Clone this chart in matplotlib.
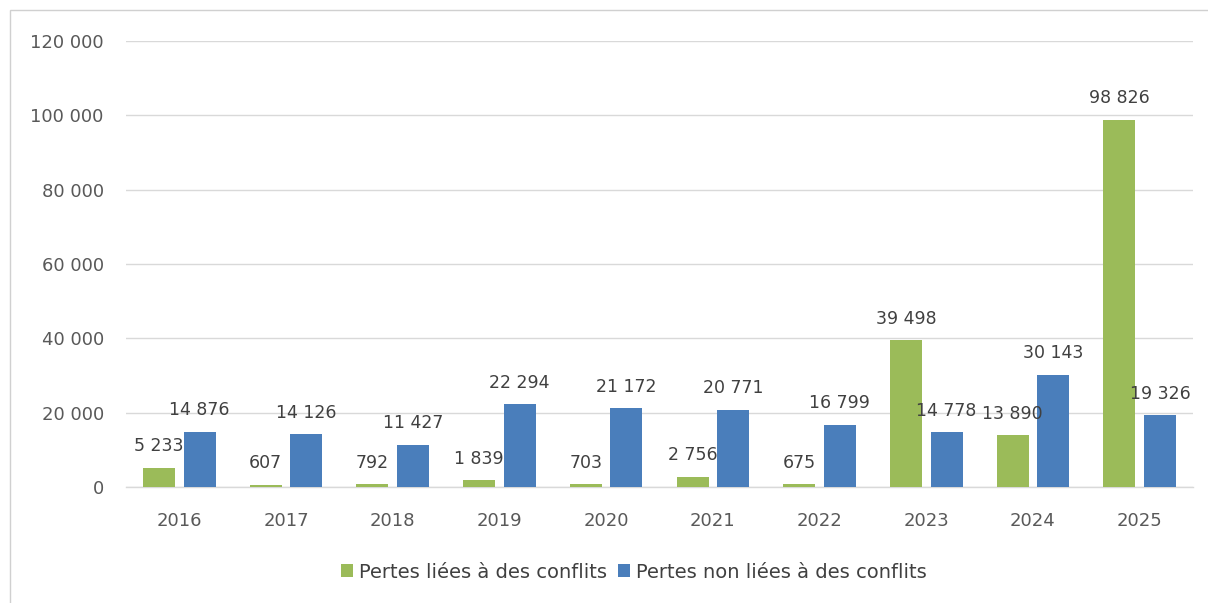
import matplotlib
matplotlib.use("Agg")
import matplotlib.pyplot as plt
from matplotlib.patches import Rectangle
import numpy as np

years = ["2016", "2017", "2018", "2019", "2020", "2021", "2022", "2023", "2024", "2025"]
conflict = [5233, 607, 792, 1839, 703, 2756, 675, 39498, 13890, 98826]
non_conflict = [14876, 14126, 11427, 22294, 21172, 20771, 16799, 14778, 30143, 19326]
yticks = [0, 20000, 40000, 60000, 80000, 100000, 120000]
series_names = ["Pertes liées à des conflits", "Pertes non liées à des conflits"]

GREEN = "#9BBB59"
BLUE = "#4A7EBB"
TICK_TEXT = "#595959"
LABEL_TEXT = "#404040"
GRID = "#D9D9D9"

plt.rcParams["font.family"] = ["DejaVu Sans"]

W, H = 1208, 603
fig = plt.figure(figsize=(W / 100, H / 100), dpi=100)
# light frame around the chart area
fig.patches.append(Rectangle((10 / W, -0.1), 1.2, 1 - 10 / H + 0.1,
                             transform=fig.transFigure, fill=False,
                             edgecolor="#D0D0D0", linewidth=1.0))

ax = fig.add_axes([126 / W, (H - 487) / H, (1193 - 126) / W, 446 / H])


def fmt(v):
    return f"{v:,}".replace(",", " ")


x = np.arange(len(years))
bw = 0.30
off = 0.19
b1 = ax.bar(x - off, conflict, bw, color=GREEN, label=series_names[0], zorder=3)
b2 = ax.bar(x + off, non_conflict, bw, color=BLUE, label=series_names[1], zorder=3)

for bars, vals in ((b1, conflict), (b2, non_conflict)):
    for r, v in zip(bars, vals):
        ax.annotate(fmt(v), (r.get_x() + r.get_width() / 2, v),
                    xytext=(0, 9), textcoords="offset points",
                    ha="center", va="bottom", fontsize=12.5, color=LABEL_TEXT,
                    zorder=4)

ax.set_xlim(-0.5, len(years) - 0.5)
ax.set_ylim(0, 120000)
ax.set_yticks(yticks)
ax.set_yticklabels([fmt(v) for v in yticks])
ax.set_xticks(x)
ax.set_xticklabels(years)
ax.tick_params(axis="both", length=0, labelsize=13, labelcolor=TICK_TEXT)
ax.tick_params(axis="y", pad=16)
ax.tick_params(axis="x", pad=18)
ax.grid(axis="y", color=GRID, linewidth=1.0, zorder=0)
for s in ("top", "right", "left"):
    ax.spines[s].set_visible(False)
ax.spines["bottom"].set_color(GRID)
ax.spines["bottom"].set_linewidth(1.0)

leg = ax.legend(loc="center", ncol=2, frameon=False,
                fontsize=14, labelcolor=LABEL_TEXT, handlelength=0.6, handleheight=0.6,
                handletextpad=0.3, columnspacing=0.6)
leg.set_bbox_to_anchor((634 / W, (H - 572) / H), transform=fig.transFigure)

fig.savefig("out.png", dpi=100, facecolor="white")
